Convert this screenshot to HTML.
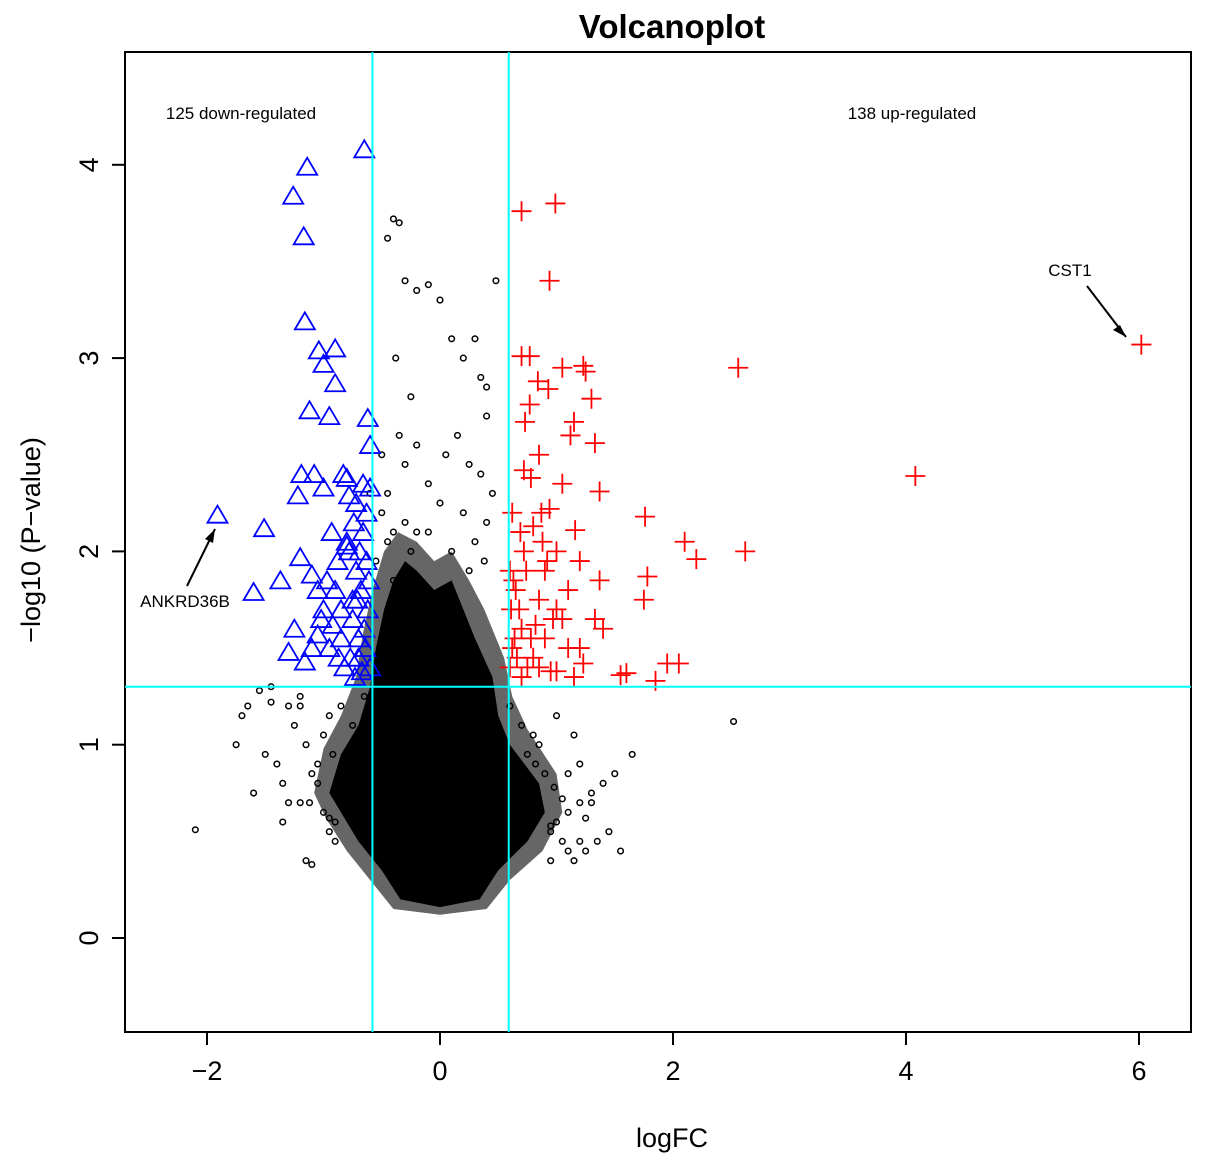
<!DOCTYPE html>
<html><head><meta charset="utf-8"><style>
body{margin:0;background:#fff;}
svg text{font-family:"Liberation Sans",Arial,sans-serif;}
</style></head><body>
<svg id="chart" width="1205" height="1167" viewBox="0 0 1205 1167" xmlns="http://www.w3.org/2000/svg">
<text x="672" y="38" font-size="33" font-weight="bold" text-anchor="middle">Volcanoplot</text>
<rect x="125" y="52" width="1066" height="980" fill="none" stroke="#000" stroke-width="2"/>
<g id="core"></g><g id="pts"></g><g id="blue"></g><g id="red"></g>
<g id="axes"></g>
<text x="672" y="1147" font-size="27" text-anchor="middle">logFC</text>
<text transform="translate(40,540) rotate(-90)" font-size="27" text-anchor="middle">−log10 (P−value)</text>
<text x="241" y="119" font-size="17" text-anchor="middle">125 down-regulated</text>
<text x="912" y="119" font-size="17" text-anchor="middle">138 up-regulated</text>
<text x="1070" y="276" font-size="17" text-anchor="middle">CST1</text>
<line x1="1087" y1="286" x2="1126" y2="337" stroke="#000" stroke-width="2"/>
<path d="M1126 337 L1113 330 L1120 325 Z" fill="#000"/>
<text x="185" y="607" font-size="17" text-anchor="middle">ANKRD36B</text>
<line x1="187" y1="586" x2="215" y2="529" stroke="#000" stroke-width="2"/>
<path d="M215 529 L213 543 L205 539 Z" fill="#000"/>
</svg>
<script>
const xTicks=[-2,0,2,4,6];
const yTicks=[0,1,2,3,4];
const fcCut=[-0.58,0.59];
const pCut=[1.3];
const coreFC=[-0.34,-0.5,-0.7,-0.85,-0.95,-0.85,-0.7,-0.6,-0.55,-0.48,-0.4,-0.3,-0.2,-0.05,0.1,0.2,0.3,0.45,0.5,0.6,0.85,0.9,0.75,0.5,0.34,0.0];
const coreP=[0.2,0.35,0.5,0.65,0.75,0.95,1.1,1.3,1.5,1.7,1.85,1.95,1.9,1.8,1.85,1.7,1.55,1.35,1.15,1.0,0.8,0.65,0.5,0.35,0.2,0.16];
const fringeFC=[-0.4,-0.6,-0.8,-0.98,-1.08,-1.0,-0.85,-0.72,-0.66,-0.58,-0.48,-0.36,-0.2,-0.05,0.1,0.25,0.38,0.55,0.62,0.75,1.0,1.05,0.88,0.6,0.4,0.0];
const fringeP=[0.15,0.3,0.45,0.62,0.75,0.98,1.15,1.35,1.58,1.8,2.0,2.1,2.05,1.95,2.0,1.85,1.7,1.45,1.25,1.08,0.85,0.65,0.45,0.3,0.15,0.12];
const dotFC=[-2.1,-1.75,-1.65,-1.55,-1.45,-1.4,-1.35,-1.3,-1.25,-1.2,-1.15,-1.1,-1.05,-1.0,-0.95,-0.9,-1.7,-1.6,-1.5,-1.45,-1.35,-1.2,-1.1,-1.0,-0.4,-0.35,-0.45,-0.3,-0.2,-0.1,0.0,0.1,0.2,0.3,0.4,0.48,-0.38,-0.25,0.35,0.4,2.52,1.65,1.5,1.4,1.3,1.2,1.1,1.0,0.95,1.55,1.45,1.35,1.25,1.15,1.05,0.95,-0.6,-0.5,-0.45,-0.4,-0.35,-0.3,-0.2,-0.1,0.05,0.15,0.25,0.35,0.45,-0.5,-0.45,-0.3,-0.2,0.0,0.2,0.3,0.4,-0.55,-0.4,-0.25,-0.1,0.1,0.25,0.38,-0.85,-0.75,-0.65,-0.8,-0.7,0.6,0.7,0.8,0.65,0.75,0.85,1.0,1.15,-1.3,-1.15,-0.95,-0.8,1.3,1.2,1.1,-1.05,-1.12,-0.9,-0.85,-0.95,1.1,1.2,0.95,1.05,0.9,0.98,1.25,0.82,-1.2,-0.92];
const dotP=[0.56,1.0,1.2,1.28,1.3,0.9,0.8,0.7,1.1,1.2,0.4,0.38,0.9,1.05,0.55,0.5,1.15,0.75,0.95,1.22,0.6,1.25,0.85,0.65,3.72,3.7,3.62,3.4,3.35,3.38,3.3,3.1,3.0,3.1,2.7,3.4,3.0,2.8,2.9,2.85,1.12,0.95,0.85,0.8,0.75,0.7,0.65,0.6,0.55,0.45,0.55,0.5,0.45,0.4,0.5,0.4,2.3,2.5,2.3,2.1,2.6,2.45,2.55,2.35,2.5,2.6,2.45,2.4,2.3,2.2,2.05,2.15,2.1,2.25,2.2,2.05,2.15,1.95,1.85,2.0,2.1,2.0,1.9,1.95,1.2,1.1,1.25,0.9,1.0,1.2,1.1,1.05,0.9,0.95,1.0,1.15,1.05,1.2,1.0,1.15,0.95,0.7,0.9,0.85,0.8,0.7,0.6,0.75,0.62,0.45,0.5,0.58,0.72,0.85,0.78,0.62,0.9,0.7,0.95,0.88];
const downFC=[-0.65,-1.14,-1.26,-1.17,-1.16,-1.04,-0.9,-1.0,-0.9,-1.12,-0.95,-0.62,-0.6,-1.19,-1.08,-0.83,-0.8,-1.0,-1.22,-0.6,-0.78,-0.72,-1.91,-1.51,-0.93,-1.2,-0.8,-1.37,-1.1,-1.6,-1.05,-0.9,-0.75,-1.0,-1.25,-1.05,-0.85,-1.3,-1.1,-1.16,-0.95,-0.82,-0.7,-0.65,-0.62,-0.68,-0.72,-0.78,-0.66,-0.63,-0.7,-0.75,-0.85,-0.88,-0.6,-0.64,-0.74,-0.8,-0.92,-0.67,-0.61,-0.69,-0.77,-0.71,-0.63,-0.66,-1.02,-0.97,-0.87,-0.73];
const downP=[4.08,3.99,3.84,3.63,3.19,3.04,3.05,2.97,2.87,2.73,2.7,2.69,2.55,2.4,2.4,2.4,2.38,2.33,2.29,2.33,2.29,2.25,2.19,2.12,2.1,1.97,2.03,1.85,1.88,1.79,1.8,1.8,1.75,1.7,1.6,1.57,1.55,1.48,1.5,1.43,1.5,1.4,1.45,1.6,1.7,1.8,1.9,2.0,2.1,2.2,1.55,1.65,1.7,1.95,1.4,1.5,2.15,2.05,1.62,1.38,1.85,2.0,1.45,1.75,1.95,2.35,1.65,1.85,1.45,1.35];
const upFC=[0.7,0.99,0.94,0.7,0.77,1.05,1.23,1.25,2.56,6.02,0.84,0.93,1.3,0.77,0.73,1.15,1.12,1.33,0.85,0.72,0.78,1.05,1.37,4.08,0.87,0.94,1.76,1.16,0.8,2.1,2.62,2.2,1.0,1.2,0.6,0.9,1.78,1.37,0.65,0.85,1.75,1.0,1.33,1.4,0.7,0.9,1.1,0.62,0.8,1.23,1.95,2.05,1.6,1.55,1.85,0.6,0.75,1.0,1.15,0.95,0.68,0.72,0.62,0.82,1.05,0.88,1.1,0.64,0.66,0.74,0.7,0.78,0.92,0.61,0.85,0.97,1.2,0.63,0.69];
const upP=[3.76,3.8,3.4,3.01,3.01,2.95,2.96,2.93,2.95,3.07,2.88,2.84,2.79,2.76,2.67,2.67,2.6,2.56,2.5,2.42,2.38,2.35,2.31,2.39,2.2,2.22,2.18,2.11,2.13,2.05,2.0,1.96,2.0,1.95,1.9,1.9,1.87,1.85,1.8,1.75,1.75,1.7,1.65,1.6,1.6,1.55,1.5,1.5,1.45,1.42,1.42,1.42,1.37,1.36,1.33,1.4,1.4,1.38,1.35,1.38,1.7,2.0,2.2,1.62,1.65,2.05,1.8,1.55,1.45,1.9,1.35,1.55,1.95,1.7,1.4,1.65,1.5,1.85,2.1];
const X=v=>440+v*116.5, Y=v=>938-v*193.3;
const NS='http://www.w3.org/2000/svg';
function mk(t,a,p){const e=document.createElementNS(NS,t);for(const k in a)e.setAttribute(k,a[k]);p.appendChild(e);return e;}
const core=document.getElementById('core');
const fp=mk('polygon',{points:fringeFC.map((v,i)=>X(v)+','+Y(fringeP[i])).join(' '),fill:'#666'},core);


const cp=mk('polygon',{points:coreFC.map((v,i)=>X(v)+','+Y(coreP[i])).join(' '),fill:'#000'},core);


const pts=document.getElementById('pts');
dotFC.forEach((v,i)=>{const c=mk('circle',{cx:X(v),cy:Y(dotP[i]),r:2.8,fill:'none',stroke:'#000','stroke-width':1.5},pts);

});
const blue=document.getElementById('blue');
downFC.forEach((v,i)=>{const x=X(v),y=Y(downP[i]);const t=mk('polygon',{points:`${x},${y-9} ${x-10},${y+8} ${x+10},${y+8}`,fill:'none',stroke:'#0000ff','stroke-width':1.8},blue);

});
const red=document.getElementById('red');
upFC.forEach((v,i)=>{const x=X(v),y=Y(upP[i]);const p=mk('path',{d:`M${x-10} ${y}H${x+10}M${x} ${y-10}V${y+10}`,stroke:'#ff0000','stroke-width':1.8},red);

});
const ax=document.getElementById('axes');
fcCut.forEach(v=>{const l=mk('line',{x1:X(v),x2:X(v),y1:52,y2:1032,stroke:'#00ffff','stroke-width':2},ax);

});
pCut.forEach(v=>{const l=mk('line',{x1:125,x2:1191,y1:Y(v),y2:Y(v),stroke:'#00ffff','stroke-width':2},ax);

});
xTicks.forEach(v=>{mk('line',{x1:X(v),x2:X(v),y1:1032,y2:1045,stroke:'#000','stroke-width':2},ax);
const t=mk('text',{x:X(v),y:1080,'font-size':27,'text-anchor':'middle'},ax);t.textContent=v<0?'−'+(-v):v;

});
yTicks.forEach(v=>{mk('line',{x1:112,x2:125,y1:Y(v),y2:Y(v),stroke:'#000','stroke-width':2},ax);
const t=mk('text',{transform:`translate(98,${Y(v)}) rotate(-90)`,'font-size':27,'text-anchor':'middle'},ax);t.textContent=v;

});
</script>
</body></html>
